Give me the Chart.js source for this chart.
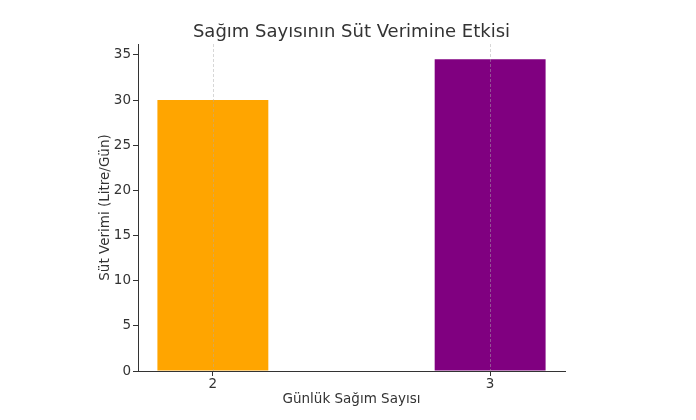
<!DOCTYPE html>
<html>
<head>
<meta charset="utf-8">
<script src="https://cdn.jsdelivr.net/npm/chart.js@4"></script>
<style>
  html, body { margin: 0; padding: 0; background: #fff; }
  #wrap { width: 696px; height: 420px; }
</style>
</head>
<body>
<div id="wrap"><canvas id="chart"></canvas></div>
<script>
const milkings = [2, 3];
const yieldPerDay = [30, 34.5];
const barColors = ["#FFA500", "#800080"];
const yTicks = [0, 5, 10, 15, 20, 25, 30, 35];
const chartTitle = "Sağım Sayısının Süt Verimine Etkisi";

const font = "'DejaVu Sans', sans-serif";
const ink = "#333333";

// title centred over the plot area, not the whole canvas
const plotTitle = {
  id: "plotTitle",
  afterDraw(chart) {
    const { ctx, chartArea } = chart;
    ctx.save();
    ctx.fillStyle = ink;
    ctx.font = "18px " + font;
    ctx.textAlign = "center";
    ctx.textBaseline = "middle";
    ctx.fillText(chartTitle, (chartArea.left + chartArea.right) / 2, 32);
    ctx.restore();
  }
};

// dashed vertical grid drawn on top of the bars
const gridOnTop = {
  id: "gridOnTop",
  afterDatasetsDraw(chart) {
    const { ctx, chartArea, scales } = chart;
    ctx.save();
    ctx.strokeStyle = "rgba(170,170,170,0.6)";
    ctx.lineWidth = 0.8;
    ctx.setLineDash([3, 2]);
    scales.x.ticks.forEach(t => {
      const px = Math.round(scales.x.getPixelForValue(t.value)) + 0.5;
      ctx.beginPath();
      ctx.moveTo(px, chartArea.top);
      ctx.lineTo(px, chartArea.bottom);
      ctx.stroke();
    });
    ctx.restore();
  }
};

new Chart(document.getElementById("chart"), {
  type: "bar",
  data: {
    datasets: [{
      data: milkings.map((m, i) => ({ x: m, y: yieldPerDay[i] })),
      backgroundColor: barColors,
      borderWidth: 0,
      barPercentage: 0.4,
      categoryPercentage: 1
    }]
  },
  plugins: [gridOnTop, plotTitle],
  options: {
    responsive: true,
    maintainAspectRatio: false,
    animation: false,
    layout: { padding: { left: 97, right: 131, top: 44, bottom: 0 } },
    plugins: {
      legend: { display: false },
      tooltip: { enabled: false },
      title: { display: false }
    },
    scales: {
      x: {
        type: "linear",
        min: 1.73,
        max: 3.27,
        offset: false,
        afterBuildTicks: s => { s.ticks = milkings.map(v => ({ value: v })); },
        afterFit: s => { s.height = 49; },
        ticks: {
          color: ink,
          font: { family: font, size: 13.5 },
          padding: 0,
          callback: v => String(v)
        },
        grid: {
          display: true,
          offset: false,
          drawOnChartArea: false,
          tickColor: ink,
          tickLength: 5
        },
        border: { display: true, color: ink, width: 1 },
        title: {
          display: true,
          text: "Günlük Sağım Sayısı",
          color: ink,
          font: { family: font, size: 13.5 },
          padding: { top: 2, bottom: 12 }
        }
      },
      y: {
        min: 0,
        max: 36.2,
        afterBuildTicks: s => { s.ticks = yTicks.map(v => ({ value: v })); },
        afterFit: s => { s.width = 41; },
        ticks: {
          color: ink,
          font: { family: font, size: 13.5 },
          padding: 2
        },
        grid: {
          display: true,
          drawOnChartArea: false,
          tickColor: ink,
          tickLength: 5
        },
        border: { display: true, color: ink, width: 1 },
        title: {
          display: true,
          text: "Süt Verimi (Litre/Gün)",
          color: ink,
          font: { family: font, size: 13.5 },
          padding: { top: 0, bottom: 4 }
        }
      }
    }
  }
});
</script>
</body>
</html>
